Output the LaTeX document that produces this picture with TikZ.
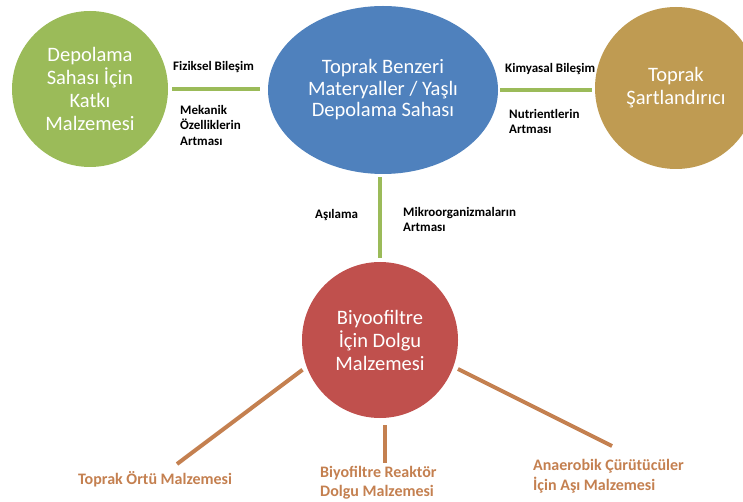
\documentclass[tikz,border=0pt]{standalone}
\usepackage{fontspec}
\setmainfont{Carlito}
\usetikzlibrary{shapes.geometric}
\definecolor{cgreen}{HTML}{9BBB59}
\definecolor{cblue}{HTML}{4F81BD}
\definecolor{cgold}{HTML}{BF9B52}
\definecolor{cred}{HTML}{C0504D}
\definecolor{cbrown}{RGB}{196,128,80}
\begin{document}
\begin{tikzpicture}[x=1pt,y=-1pt,
  bubble/.style={circle, inner sep=0pt, text=white, align=center, font=\fontsize{20.5}{23}\selectfont},
  link/.style={draw=cgreen, line width=4pt},
  blink/.style={draw=cbrown, line width=4pt},
  lab/.style={font=\bfseries\fontsize{13}{15.5}\selectfont, align=left, inner sep=0pt, anchor=west},
  blab/.style={font=\bfseries\fontsize{16}{19.5}\selectfont, text=cbrown, align=left, inner sep=0pt, anchor=west}]
\useasboundingbox (0,0) rectangle (743,502);

\node[bubble, fill=cgreen, minimum size=156pt] (katki) at (90,89) {Depolama\\Sahası İçin\\Katkı\\Malzemesi};
\node[ellipse, fill=cblue, minimum width=230pt, minimum height=168pt, inner sep=0pt, text=white, align=center, font=\fontsize{20.5}{21.5}\selectfont] (toprak) at (383,90) {Toprak Benzeri\\Materyaller / Yaşlı\\Depolama Sahası};
\node[bubble, fill=cgold, minimum size=162pt] (sart) at (676,88) {Toprak\\Şartlandırıcı};
\node[bubble, fill=cred, minimum size=156pt] (biyo) at (380,340) {Biyoofiltre\\İçin Dolgu\\Malzemesi};

\draw[link, shorten <=4pt, shorten >=8pt] (katki.east) -- (katki.east -| toprak.west);
\draw[link, shorten <=2pt, shorten >=3pt] (toprak.east) -- (toprak.east -| sart.west);
\draw[link, shorten <=3pt, shorten >=4pt] (toprak.south -| biyo.north) -- (biyo.north);

\coordinate (e1) at (177,464);
\coordinate (e2) at (385,463);
\coordinate (e3) at (612,446);
\draw[blink, shorten <=5pt] (biyo.200) -- (e1);
\draw[blink, shorten <=7pt] (biyo.south -| e2) -- (e2);
\draw[blink, shorten <=5pt] (biyo.340) -- (e3);

\node[lab] (fiz) at (173,67) {Fiziksel Bileşim};
\node[lab] (mek) at (180,125) {Mekanik\\Özelliklerin\\Artması};
\node[lab] (kim) at (505,69) {Kimyasal Bileşim};
\node[lab] (nut) at (509,121.5) {Nutrientlerin\\Artması};
\node[lab] (asi) at (315,215) {Aşılama};
\node[lab] (mik) at (403,219.5) {Mikroorganizmaların\\Artması};

\node[blab] (ortu) at (78,479) {Toprak Örtü Malzemesi};
\node[blab] (reak) at (320,482.5) {Biyofiltre Reaktör\\Dolgu Malzemesi};
\node[blab] (anae) at (533,476) {Anaerobik Çürütücüler\\İçin Aşı Malzemesi};
\end{tikzpicture}
\end{document}
